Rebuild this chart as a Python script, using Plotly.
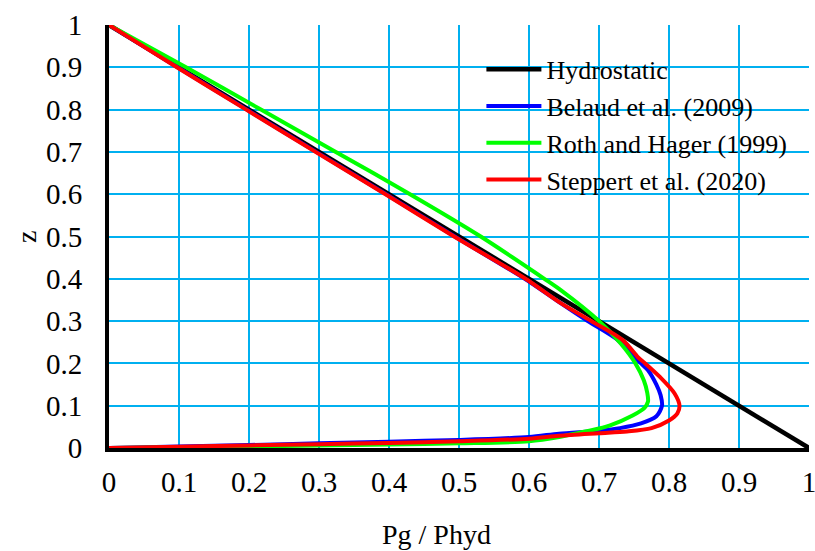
import plotly.graph_objects as go

# ---------------- data ----------------
tick_vals = [0, 0.1, 0.2, 0.3, 0.4, 0.5, 0.6, 0.7, 0.8, 0.9, 1]
tick_text = ["0", "0.1", "0.2", "0.3", "0.4", "0.5", "0.6", "0.7", "0.8", "0.9", "1"]

series_names = ["Hydrostatic", "Belaud et al. (2009)", "Roth and Hager (1999)", "Steppert et al. (2020)"]

hyd_x = [0.0, 1.0]
hyd_z = [1.0, 0.0]

belaud_x = [0.0, 0.098, 0.197, 0.296, 0.396, 0.494, 0.594, 0.643, 0.684, 0.727, 0.751,
            0.760, 0.770, 0.782, 0.788, 0.790, 0.782, 0.760, 0.730, 0.700, 0.643, 0.600,
            0.500, 0.400, 0.300, 0.200, 0.100, 0.0]
belaud_z = [1.0, 0.9, 0.8, 0.7, 0.6, 0.5, 0.4, 0.345, 0.3, 0.255, 0.214,
            0.2, 0.184, 0.15, 0.125, 0.1, 0.075, 0.058, 0.047, 0.041, 0.034, 0.026,
            0.019, 0.015, 0.011, 0.007, 0.0035, 0.0]

roth_x = [0.0, 0.110, 0.217, 0.324, 0.430, 0.531, 0.622, 0.643, 0.700, 0.731, 0.752,
          0.764, 0.769, 0.770, 0.765, 0.748, 0.715, 0.700, 0.672, 0.643, 0.600,
          0.500, 0.400, 0.300, 0.200, 0.100, 0.0]
roth_z = [1.0, 0.9, 0.8, 0.7, 0.6, 0.5, 0.4, 0.376, 0.3, 0.247, 0.2,
          0.16, 0.13, 0.11, 0.095, 0.077, 0.053, 0.046, 0.036, 0.026, 0.016,
          0.011, 0.008, 0.006, 0.004, 0.002, 0.0]

steppert_x = [0.0, 0.097, 0.196, 0.295, 0.395, 0.493, 0.595, 0.643, 0.689, 0.734, 0.756,
              0.766, 0.787, 0.808, 0.815, 0.812, 0.800, 0.775, 0.740, 0.700, 0.643, 0.600,
              0.500, 0.400, 0.300, 0.200, 0.100, 0.0]
steppert_z = [1.0, 0.9, 0.8, 0.7, 0.6, 0.5, 0.4, 0.345, 0.3, 0.255, 0.214,
              0.2, 0.168, 0.129, 0.1, 0.082, 0.065, 0.047, 0.039, 0.035, 0.029, 0.022,
              0.016, 0.012, 0.009, 0.006, 0.003, 0.0]

colors = ["#000000", "#0000FF", "#00FF00", "#FF0000"]
widths = [4.5, 4, 4, 4]

xs_all = [hyd_x, belaud_x, roth_x, steppert_x]
zs_all = [hyd_z, belaud_z, roth_z, steppert_z]

# ---------------- figure ----------------
fig = go.Figure()
for name, xs, zs, col, w in zip(series_names, xs_all, zs_all, colors, widths):
    fig.add_trace(go.Scatter(
        x=xs, y=zs, name=name, mode="lines",
        line=dict(color=col, width=w, shape="spline" if len(xs) > 2 else "linear", smoothing=0.8),
    ))

FONT = "Liberation Serif"
GRID = "#00B0F0"

fig.update_layout(
    width=815, height=551,
    margin=dict(l=109, r=6, t=25, b=103),
    plot_bgcolor="white", paper_bgcolor="white",
    font=dict(family=FONT, size=29, color="black"),
    showlegend=True,
    legend=dict(
        x=0.532, y=0.951, xanchor="left", yanchor="top",
        bgcolor="rgba(0,0,0,0)", borderwidth=0,
        font=dict(family=FONT, size=26, color="black"),
        itemwidth=55, tracegroupgap=0,
    ),
    xaxis=dict(
        range=[0, 1], tickvals=tick_vals, ticktext=tick_text,
        showgrid=True, gridcolor=GRID, gridwidth=2,
        zeroline=False, showline=True, linecolor="black", linewidth=4,
        ticks="", ticklabelstandoff=5, ticklabeloverflow="allow",
        automargin=False, fixedrange=True,
    ),
    yaxis=dict(
        range=[0, 1], tickvals=tick_vals, ticktext=tick_text,
        showgrid=True, gridcolor=GRID, gridwidth=2,
        zeroline=False, showline=True, linecolor="black", linewidth=4,
        ticks="", ticklabelstandoff=17, ticklabeloverflow="allow",
        automargin=False, fixedrange=True,
    ),
    annotations=[
        dict(text="Pg / Phyd", xref="paper", yref="paper", x=0.468, y=-0.205,
             xanchor="center", yanchor="middle", showarrow=False,
             font=dict(family=FONT, size=28, color="black")),
        dict(text="z", xref="paper", yref="paper", x=-0.118, y=0.5,
             xanchor="center", yanchor="middle", showarrow=False, textangle=-90,
             font=dict(family=FONT, size=28, color="black")),
    ],
)

fig.write_html("out.html")
